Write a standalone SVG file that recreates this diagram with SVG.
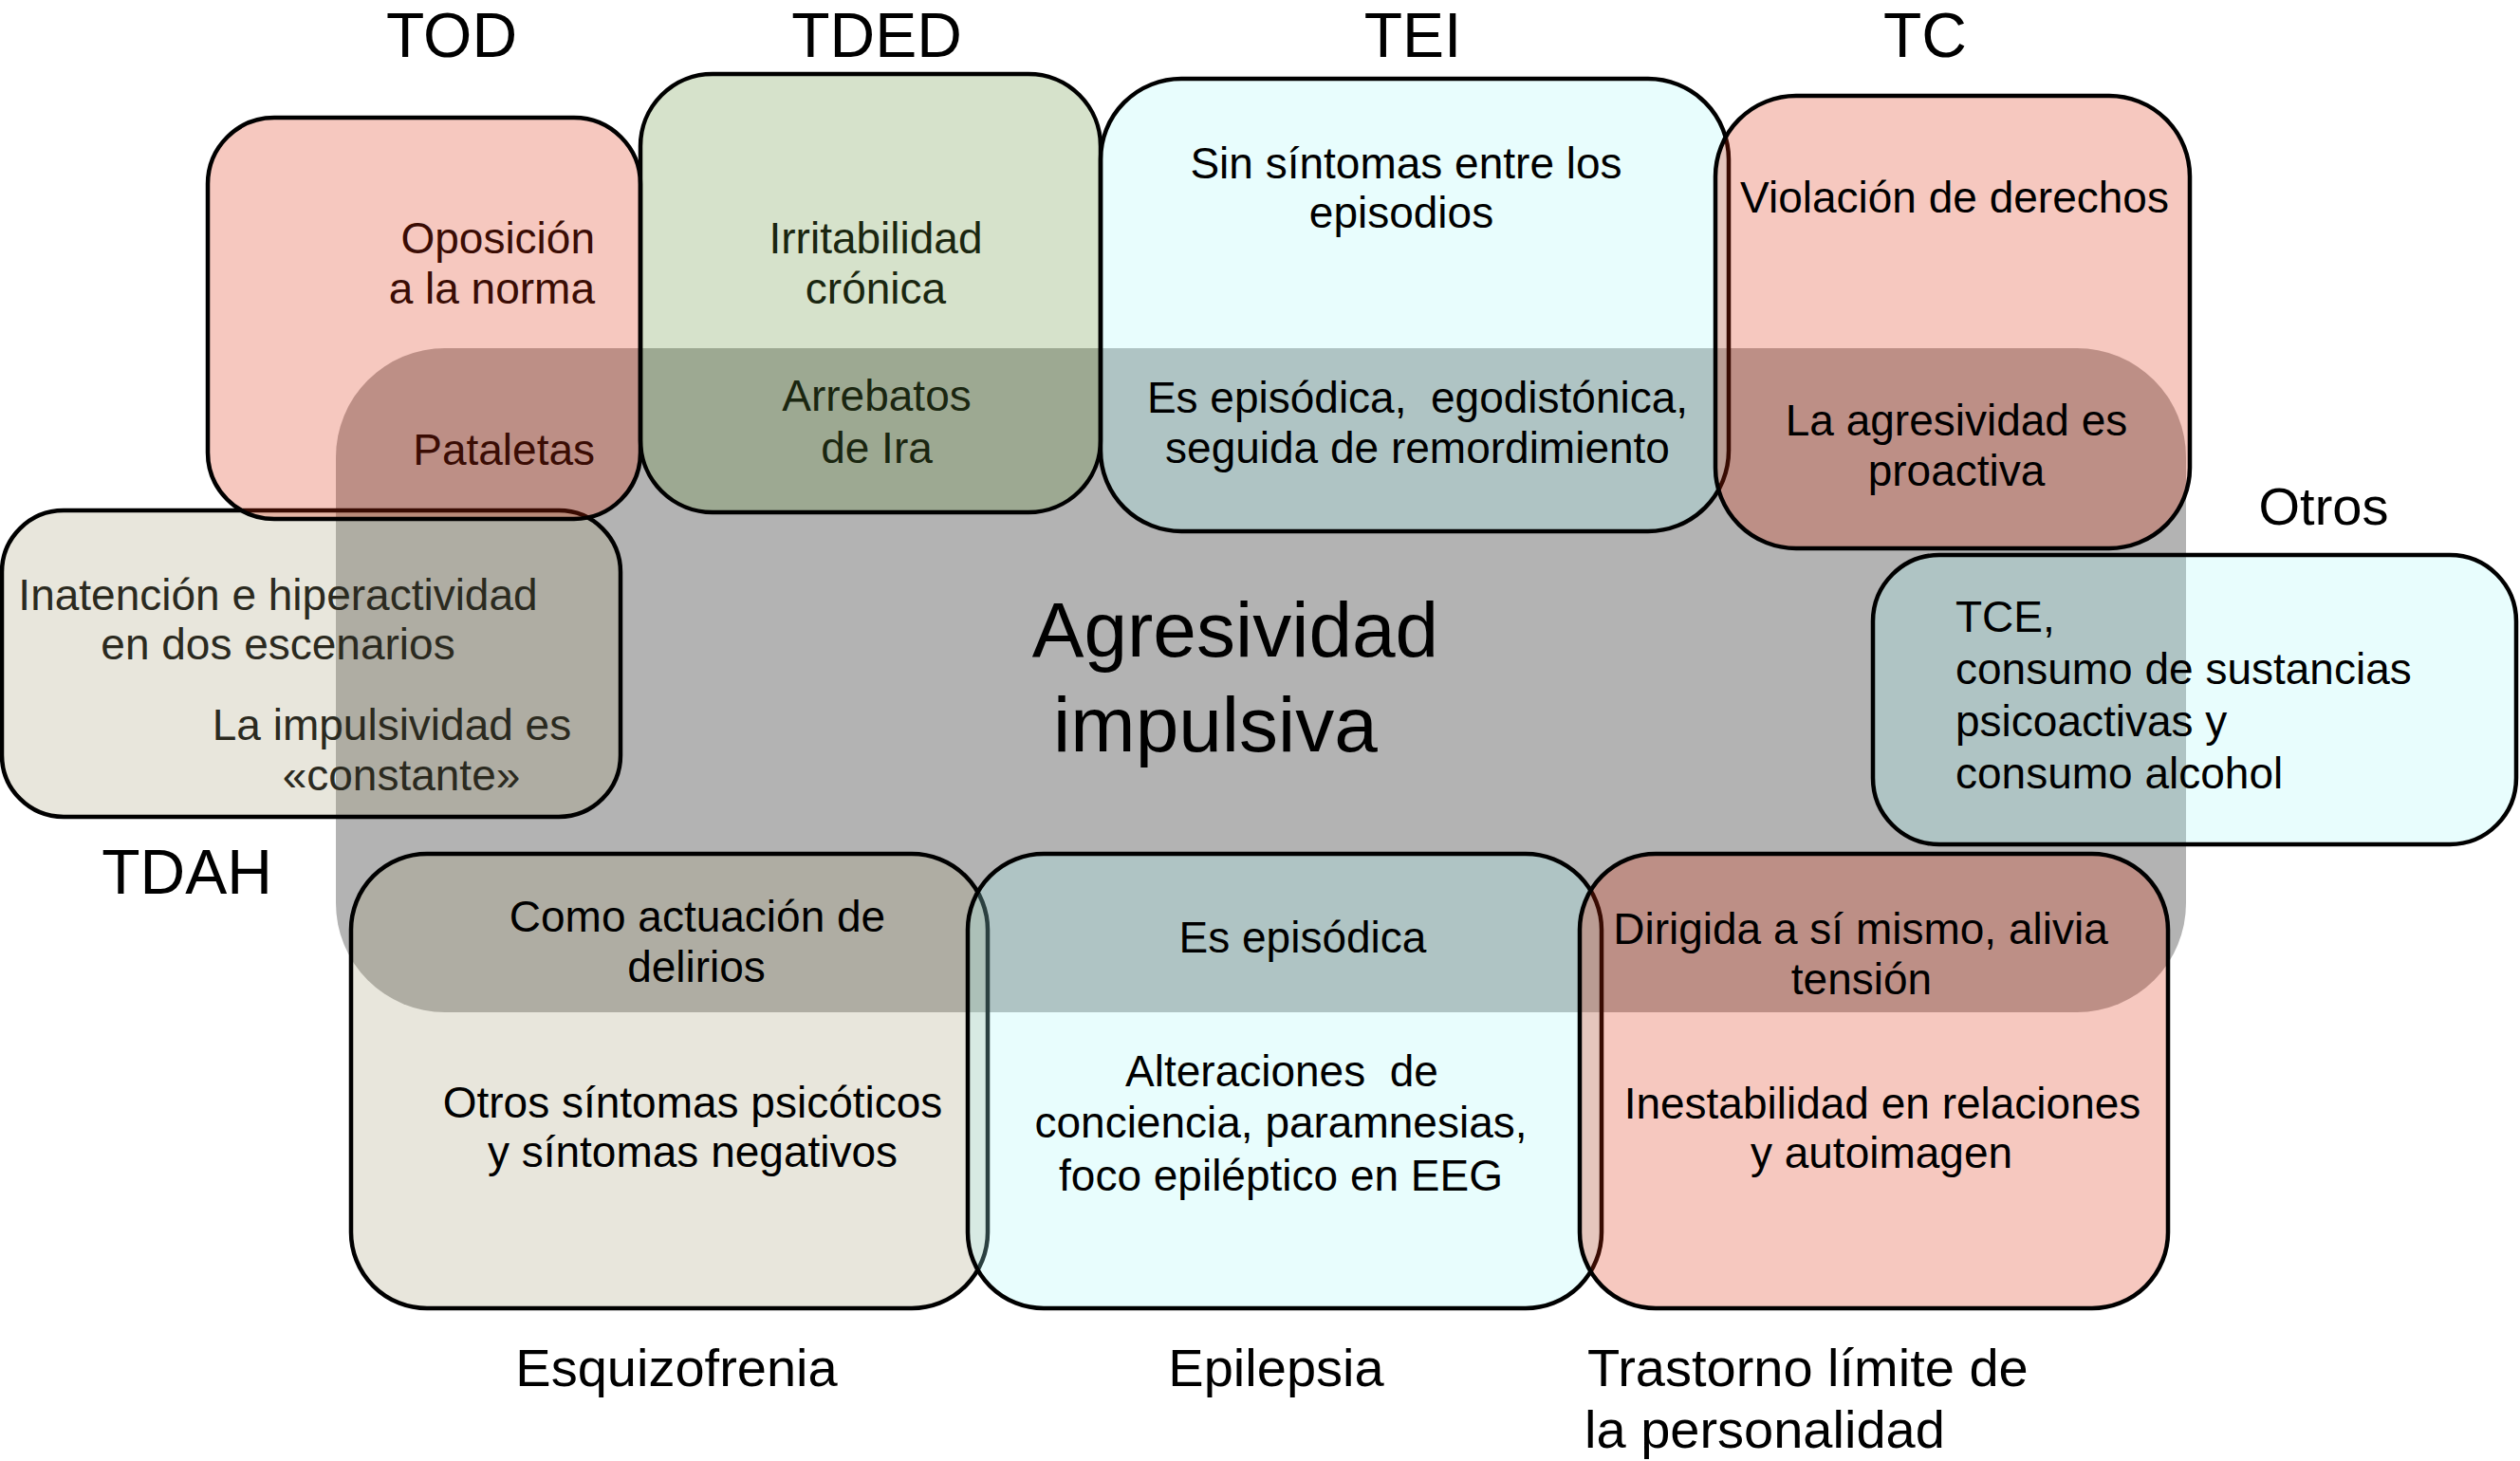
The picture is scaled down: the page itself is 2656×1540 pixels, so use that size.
<svg xmlns="http://www.w3.org/2000/svg" width="2656" height="1540" viewBox="0 0 2656 1540">
<style>
text{font-family:"Liberation Sans",Arial,Helvetica,sans-serif;fill:#000}
.h{font-size:66px;text-anchor:middle}
.l{font-size:56px}
.t{font-size:46px;text-anchor:middle}
.box{stroke:#000;stroke-width:4.5}
.pink{fill:rgb(220,43,9);fill-opacity:0.26}
.green{fill:rgb(97,143,55);fill-opacity:0.26}
.cyan{fill:rgb(166,247,247);fill-opacity:0.26}
.beige{fill:rgb(166,159,121);fill-opacity:0.26}
</style>
<rect width="2656" height="1540" fill="#fff"/>
<g id="agresividad">
<rect x="354" y="367" width="1950" height="700" rx="115" fill="#b3b3b3"/>
<text x="1302" y="692" style="font-size:82px;text-anchor:middle">Agresividad</text>
<text x="1281" y="792" style="font-size:82px;text-anchor:middle">impulsiva</text>
</g>
<g id="tdah">
<rect class="box beige" x="2" y="538" width="652" height="323" rx="65"/>
<text class="t" x="293" y="643" style="fill:#2b2a1f">Inatención e hiperactividad</text>
<text class="t" x="293" y="695" style="fill:#2b2a1f">en dos escenarios</text>
<text class="t" x="413" y="780" style="fill:#2b2a1f">La impulsividad es</text>
<text class="t" x="423" y="833" style="fill:#2b2a1f">«constante»</text>
<text class="h" x="197" y="942">TDAH</text>
</g>
<g id="tod">
<rect class="box pink" x="219" y="124" width="456" height="423" rx="70"/>
<text class="t" x="627" y="267" style="text-anchor:end;fill:#3a0c04">Oposición</text>
<text class="t" x="627" y="320" style="text-anchor:end;fill:#3a0c04">a la norma</text>
<text class="t" x="627" y="490" style="text-anchor:end;fill:#3a0c04">Pataletas</text>
<text class="h" x="476" y="60">TOD</text>
</g>
<g id="tded">
<rect class="box green" x="675" y="78" width="485" height="462" rx="76"/>
<text class="t" x="923" y="267" style="fill:#1a2610">Irritabilidad</text>
<text class="t" x="923" y="320" style="fill:#1a2610">crónica</text>
<text class="t" x="924" y="433" style="fill:#1a2610">Arrebatos</text>
<text class="t" x="924" y="488" style="fill:#1a2610">de Ira</text>
<text class="h" x="924" y="60">TDED</text>
</g>
<g id="tei">
<rect class="box cyan" x="1160" y="83" width="662" height="477" rx="85"/>
<text class="t" x="1482" y="188">Sin síntomas entre los</text>
<text class="t" x="1477" y="240">episodios</text>
<text class="t" x="1494" y="435" xml:space="preserve">Es episódica,  egodistónica,</text>
<text class="t" x="1494" y="488">seguida de remordimiento</text>
<text class="h" x="1489" y="60">TEI</text>
</g>
<g id="tc">
<rect class="box pink" x="1808" y="101" width="500" height="477" rx="85"/>
<text class="t" x="2060" y="224">Violación de derechos</text>
<text class="t" x="2062" y="459">La agresividad es</text>
<text class="t" x="2062" y="512">proactiva</text>
<text class="h" x="2029" y="60">TC</text>
</g>
<g id="otros">
<rect class="box cyan" x="1974" y="585" width="678" height="305" rx="70"/>
<text class="t" x="2061" y="666" style="text-anchor:start">TCE,</text>
<text class="t" x="2061" y="721" style="text-anchor:start">consumo de sustancias</text>
<text class="t" x="2061" y="776" style="text-anchor:start">psicoactivas y</text>
<text class="t" x="2061" y="831" style="text-anchor:start">consumo alcohol</text>
<text class="l" x="2449" y="553" style="text-anchor:middle">Otros</text>
</g>
<g id="esquizofrenia">
<rect class="box beige" x="370" y="900" width="671" height="479" rx="80"/>
<text class="t" x="735" y="982">Como actuación de</text>
<text class="t" x="734" y="1035">delirios</text>
<text class="t" x="730" y="1178">Otros síntomas psicóticos</text>
<text class="t" x="730" y="1230">y síntomas negativos</text>
<text class="l" x="713" y="1461" style="text-anchor:middle">Esquizofrenia</text>
</g>
<g id="epilepsia">
<rect class="box cyan" x="1020" y="900" width="668" height="479" rx="80"/>
<text class="t" x="1373" y="1004">Es episódica</text>
<text class="t" x="1351" y="1145" xml:space="preserve">Alteraciones  de</text>
<text class="t" x="1350" y="1199">conciencia, paramnesias,</text>
<text class="t" x="1350" y="1255">foco epiléptico en EEG</text>
<text class="l" x="1345" y="1461" style="text-anchor:middle">Epilepsia</text>
</g>
<g id="tlp">
<rect class="box pink" x="1665" y="900" width="620" height="479" rx="80"/>
<text class="t" x="1961" y="995">Dirigida a sí mismo, alivia</text>
<text class="t" x="1962" y="1048">tensión</text>
<text class="t" x="1984" y="1179">Inestabilidad en relaciones</text>
<text class="t" x="1983" y="1231">y autoimagen</text>
<text class="l" x="1673" y="1461">Trastorno límite de</text>
<text class="l" x="1670" y="1526">la personalidad</text>
</g>
<g id="connectors"/>
</svg>
